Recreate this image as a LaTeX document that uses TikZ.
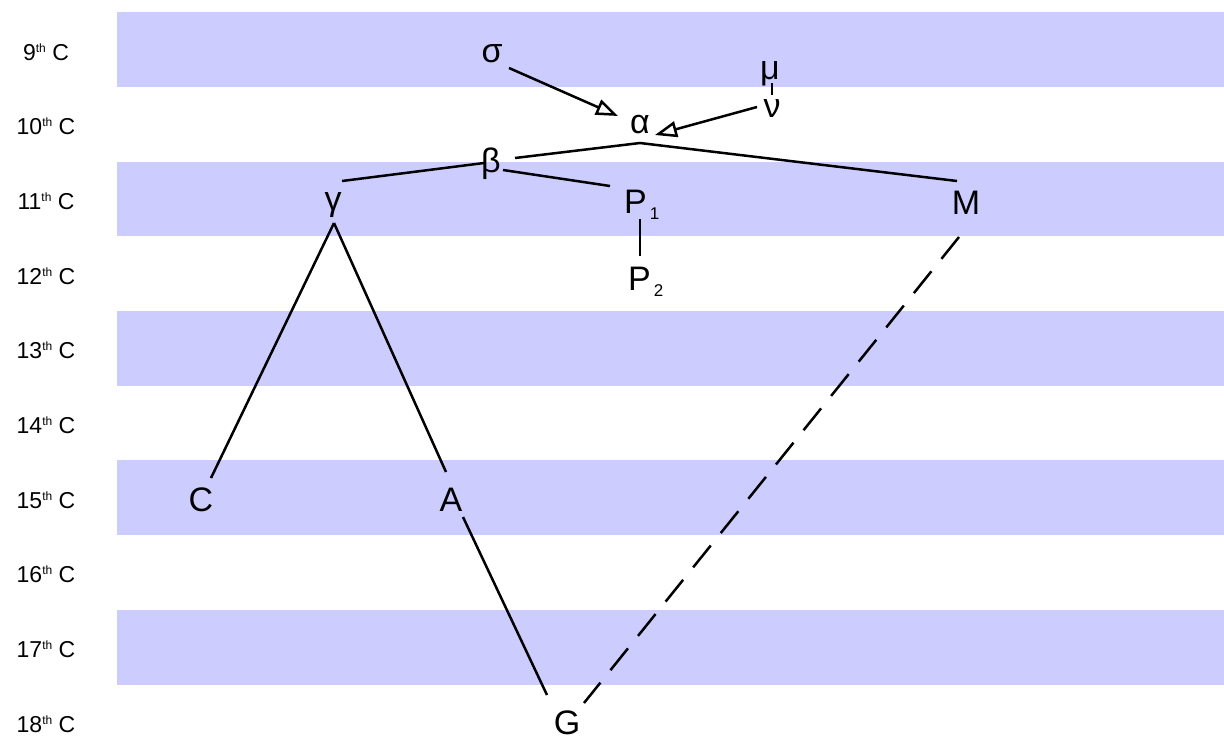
\documentclass[tikz,border=0pt]{standalone}
\usepackage{fontspec}
\setmainfont{Liberation Sans}
\usetikzlibrary{arrows.meta,calc}
\definecolor{bandblue}{HTML}{CCCCFF}
\tikzset{
  band/.style={fill=bandblue,draw=none},
  lbl/.style={inner sep=0pt,anchor=base,font=\fontsize{34}{40}\selectfont},
  lblw/.style={inner sep=0pt,anchor=base west,font=\fontsize{34}{40}\selectfont},
  cent/.style={inner sep=0pt,anchor=base,font=\fontsize{23}{27}\selectfont},
  edge/.style={line width=2.5pt},
  dashedge/.style={line width=2.5pt,dash pattern=on 28pt off 16pt},
  arr/.style={line width=2.5pt,-{Triangle[open,length=22pt,width=16pt]}}
}
\newcommand{\cent}[1]{#1\raisebox{8pt}{\fontsize{12}{12}\selectfont th} C}
\newcommand{\subs}[1]{\kern3pt\raisebox{-6pt}{\fontsize{17}{17}\selectfont #1}}
\begin{document}
\begin{tikzpicture}[x=1pt,y=-1pt]
\useasboundingbox (0,0) rectangle (1224,753);
% bands
\foreach \k in {0,2,4,6,8}{
  \fill[band] (117,{12.1+74.7*\k}) rectangle (1224,{86.9+74.7*\k});
}
% century labels
\foreach \n [count=\i from 0] in {9,10,11,12,13,14,15,16,17,18}{
  \node[cent] (c\n) at (46,{60+74.7*\i}) {\cent{\n}};
}
% nodes
\node[lbl] (s) at (492,62) {σ};
\node[lbl] (a) at (640,133) {α};
\node[lbl] (mu) at (770,79) {μ};
\node[lbl] (nu) at (772,117) {ν};
\node[lbl] (b) at (491,172) {β};
\node[lbl] (g) at (333,210) {γ};
\node[lblw] (p1) at (624,213) {P\subs{1}};
\node[lblw] (p2) at (628,290) {P\subs{2}};
\node[lbl] (m) at (966,214) {M};
\node[lbl] (c) at (201,511) {C};
\node[lbl] (aa) at (451,511) {A};
\node[lbl] (gg) at (567,734) {G};
% connectors
\draw[arr] ($(s.base)+(17,6)$) -- ($(a.base)+(-22,-17)$);
\draw[arr] ($(nu.base)+(-15,-10)$) -- ($(a.base)+(15,2)$);
\draw[edge] ($(mu.base)+(2,4)$) -- ($(nu.base)+(0,-22)$);
\draw[edge] ($(b.base)+(24,-14)$) -- ($(a.base)+(0,10)$) -- ($(m.base)+(-9,-33)$);
\draw[edge] ($(b.base)+(-7,-9)$) -- ($(g.base)+(9,-29)$);
\draw[edge] ($(b.base)+(12,-2)$) -- ($(p1.base west)+(-14,-27)$);
\draw[edge] ($(p1.base west)+(16,6)$) -- ($(p2.base west)+(12,-34)$);
\draw[edge] ($(g.base)+(1,13)$) -- ($(c.base)+(10,-33)$);
\draw[edge] ($(g.base)+(1,13)$) -- ($(aa.base)+(-5,-39)$);
\draw[edge] ($(aa.base)+(12,6)$) -- ($(gg.base)+(-20,-39)$);
\draw[dashedge] ($(m.base)+(-7,23)$) -- ($(gg.base)+(17,-31)$);
\end{tikzpicture}
\end{document}
